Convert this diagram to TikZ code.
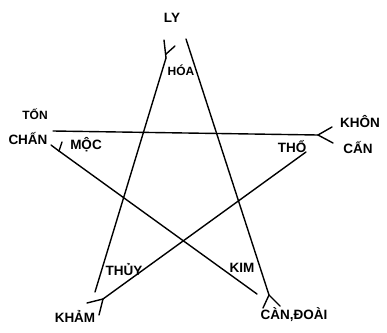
\documentclass[tikz,border=0pt]{standalone}
\usepackage{fontspec}
\setmainfont{Liberation Sans}
\usetikzlibrary{calc}
\begin{document}
\begin{tikzpicture}[x=1pt,y=-1pt,
  stroke/.style={line width=1.4pt,line cap=round,line join=round},
  lab/.style={inner sep=0pt,font=\bfseries\fontsize{13.5}{16}\selectfont}]
\useasboundingbox (0,0) rectangle (387,332);
% labels
\node[lab] (ly) at (172,18) {LY};
\node[lab,font=\bfseries\fontsize{12}{14}\selectfont] (hoa) at (181,70) {HÓA};
\node[lab,font=\bfseries\fontsize{12}{14}\selectfont] (ton) at (35,114) {TỐN};
\node[lab] (chan) at (28,139) {CHẤN};
\node[lab] (moc) at (86,145) {MỘC};
\node[lab] (tho) at (292,147) {THỔ};
\node[lab] (khon) at (360,122) {KHÔN};
\node[lab] (can) at (358,148) {CẤN};
\node[lab] (thuy) at (124,270) {THỦY};
\node[lab] (kham) at (75,316) {KHẢM};
\node[lab] (kim) at (242,268) {KIM};
\node[lab] (candoai) at (294,315) {CÀN,ĐOÀI};
% line endpoints
\coordinate (a1) at (166,58);  \coordinate (a2) at (95,292);
\coordinate (b1) at (186,39);  \coordinate (b2) at (269,295);
\coordinate (c1) at (53,131);  \coordinate (c2) at (318,135);
\coordinate (d1) at (59,151);  \coordinate (d2) at (257,294);
\coordinate (e1) at (306,152); \coordinate (e2) at (103,299);
% star lines
\draw[stroke] (a1) -- (a2);
\draw[stroke] (b1) -- (b2);
\draw[stroke] (c1) -- (c2);
\draw[stroke] (d1) -- (d2);
\draw[stroke] (e1) -- (e2);
% forks at the tips
\coordinate (fa1) at (164,40); \coordinate (fa2) at (175,46);
\draw[stroke] (a1) -- (fa1);
\draw[stroke] ($(a1)!0.2!(fa1)$) -- (fa2);
\coordinate (fb1) at (263,308); \coordinate (fb2) at (280,306);
\draw[stroke] (b2) -- (fb1);
\draw[stroke] (b2) -- (fb2);
\coordinate (fc1) at (332,127); \coordinate (fc2) at (333,143);
\draw[stroke] (c2) -- (fc1);
\draw[stroke] (c2) -- (fc2);
\coordinate (fd1) at (51,145); \coordinate (fd2) at (62,142);
\draw[stroke] (d1) -- (fd1);
\draw[stroke] (d1) -- (fd2);
\coordinate (fe1) at (87,303); \coordinate (fe2) at (99,315);
\draw[stroke] (e2) -- (fe1);
\draw[stroke] (e2) -- (fe2);
\end{tikzpicture}
\end{document}
